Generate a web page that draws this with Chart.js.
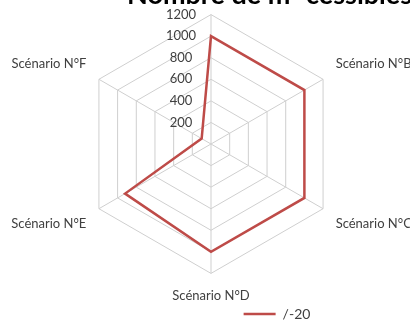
<!DOCTYPE html>
<html>
<head>
<meta charset="utf-8">
<script src="https://cdn.jsdelivr.net/npm/chart.js@4"></script>
<style>
  body { margin: 0; background: #fff; }
  #wrap { width: 410px; height: 325px; }
</style>
</head>
<body>
<div id="wrap"><canvas id="rCanvas"></canvas></div>
<script>
var scenarios = ['Scénario N°A', 'Scénario N°B', 'Scénario N°C', 'Scénario N°D', 'Scénario N°E', 'Scénario N°F'];
var serieName = '/-20';
var serieValues = [1000, 1000, 1000, 1000, 920, 100];
var tickValues = [0, 200, 400, 600, 800, 1000, 1200];
var chartTitle = 'Nombre de m² cessibles';

// title sits half cut off at the top, like the original crop
var titlePlugin = {
  id: 'cutTitle',
  afterDraw: (chart) => {
    var ctx = chart.ctx;
    ctx.save();
    ctx.font = 'bold 27px Lato';
    ctx.fillStyle = '#000';
    ctx.textBaseline = 'alphabetic';
    ctx.fillText(chartTitle, 127, 4);
    ctx.restore();
  }
};

// push the legend towards the right like in the picture
var legendShift = {
  id: 'legendShift',
  afterLayout: (chart) => {
    chart.legend.left += 65;
    chart.legend.right += 65;
  }
};

new Chart(
  document.getElementById('rCanvas'),
  {
    type: 'radar',
    plugins: [titlePlugin, legendShift],
    data: {
      labels: scenarios,
      datasets: [
        {
          label: serieName,
          data: serieValues,
          borderColor: '#be4b48',
          backgroundColor: '#be4b48',
          borderWidth: 2.5,
          pointRadius: 0,
          fill: false,
          tension: 0
        }
      ]
    },
    options: {
      responsive: true,
      maintainAspectRatio: false,
      animation: false,
      layout: {
        padding: { top: 0, left: 14, right: 0, bottom: -6 }
      },
      plugins: {
        legend: {
          position: 'bottom',
          labels: {
            usePointStyle: true,
            pointStyle: 'line',
            pointStyleWidth: 32,
            padding: 8,
            color: '#404040',
            font: { family: 'Lato', size: 14 }
          }
        },
        tooltip: { enabled: false }
      },
      scales: {
        r: {
          min: tickValues[0],
          max: tickValues[tickValues.length - 1],
          // the top of the original plot runs past the image edge
          afterSetDimensions: (scale) => {
            scale.top -= 17;
            scale.bottom += 8;
            scale.height += 25;
            scale.left -= 4;
            scale.right += 4;
            scale.width += 8;
            scale.xCenter = Math.floor(scale.left + scale.width / 2 + scale._padding.left);
            scale.yCenter = Math.floor(scale.top + scale.height / 2 + scale._padding.top);
            scale.drawingArea = Math.floor(Math.min(scale.width, scale.height) / 2);
          },
          afterBuildTicks: (scale) => {
            scale.ticks = tickValues.map(v => ({ value: v }));
          },
          ticks: {
            showLabelBackdrop: false,
            color: '#404040',
            font: { family: 'Lato', size: 13 },
            callback: v => v + '                  '
          },
          grid: { color: '#cfcfcf', lineWidth: 1 },
          angleLines: { color: '#cfcfcf', lineWidth: 1 },
          pointLabels: {
            // the top label is hidden under the title in the original
            color: (ctx) => ctx.index === 0 ? 'rgba(0,0,0,0)' : '#404040',
            font: { family: 'Lato', size: 13 },
            padding: 6
          }
        }
      }
    }
  }
);
</script>
</body>
</html>
